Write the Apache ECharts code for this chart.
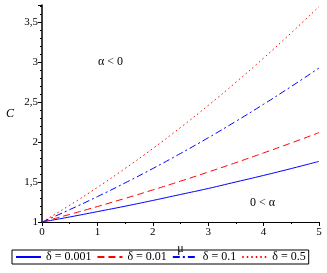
<!DOCTYPE html>
<html><head><meta charset="utf-8">
<script src="https://cdn.jsdelivr.net/npm/echarts@6/dist/echarts.min.js"></script>
<style>html,body{margin:0;padding:0;background:#fff}#c{width:327px;height:273px}</style>
</head><body><div id="c"></div>
<script>
const mu = [0, 0.5, 1, 1.5, 2, 2.5, 3, 3.5, 4, 4.5, 5];
const c0001 = [1, 1.063, 1.13, 1.198, 1.27, 1.345, 1.42, 1.502, 1.584, 1.670, 1.76];
const c001  = [1, 1.095, 1.194, 1.296, 1.402, 1.512, 1.626, 1.744, 1.866, 1.991, 2.12];
const c01   = [1, 1.155, 1.318, 1.490, 1.67, 1.859, 2.056, 2.262, 2.476, 2.699, 2.93];
const c05   = [1, 1.210, 1.434, 1.671, 1.921, 2.184, 2.461, 2.751, 3.055, 3.372, 3.70];
const names = ['δ = 0.001', 'δ = 0.01', 'δ = 0.1', 'δ = 0.5'];
const xTicks = [0, 1, 2, 3, 4, 5];
const yTicks = ['1', '1,5', '2', '2,5', '3', '3,5'];

const pairs = arr => mu.map((m, i) => [m, arr[i]]);
const font = 'Liberation Serif';
const chart = echarts.init(document.getElementById('c'), null, {renderer: 'canvas'});
function mk(name, data, color, type) {
  return {name, type: 'line', data: pairs(data), showSymbol: false, symbol: 'none', smooth: true,
    lineStyle: {color, width: 1, type}, itemStyle: {color}};
}
chart.setOption({
  animation: false,
  grid: {left: 42, right: 8, top: 5, bottom: 51},
  xAxis: {type: 'value', min: 0, max: 5, interval: 1,
    axisLine: {lineStyle: {color: '#000', width: 1}},
    axisTick: {show: true, length: 4, lineStyle: {color: '#000'}},
    minorTick: {show: true, splitNumber: 2, length: 2, lineStyle: {color: '#000'}},
    splitLine: {show: false},
    axisLabel: {color: '#000', fontFamily: font, fontSize: 11, margin: 5,
      formatter: v => xTicks.includes(v) ? String(v) : ''},
    name: 'μ', nameLocation: 'middle', nameGap: 11,
    nameTextStyle: {color: '#000', fontFamily: font, fontSize: 12}},
  yAxis: {type: 'value', min: 1, max: 3.72, interval: 0.5,
    axisLine: {show: true, lineStyle: {color: '#000', width: 1.5}},
    axisTick: {show: true, length: 4, lineStyle: {color: '#000'}},
    minorTick: {show: true, splitNumber: 5, length: 2, lineStyle: {color: '#000'}},
    splitLine: {show: false},
    axisLabel: {color: '#000', fontFamily: font, fontSize: 11, margin: 4, showMaxLabel: false,
      formatter: v => { const i = Math.round((v - 1) / 0.5); return (Math.abs(v - 1 - i * 0.5) < 1e-6 && yTicks[i]) ? yTicks[i] : ''; }},
    name: 'C', nameLocation: 'middle', nameGap: 28, nameRotate: 0,
    nameTextStyle: {color: '#000', fontFamily: font, fontSize: 12, fontStyle: 'italic'}},
  legend: {bottom: 9, left: 12, width: 320, itemWidth: 25, itemHeight: 10, itemGap: 5,
    borderColor: '#000', borderWidth: 1, padding: [1, 3, 1, 3],
    itemStyle: {opacity: 0},
    textStyle: {color: '#000', fontFamily: font, fontSize: 12},
    data: names},
  graphic: [
    {type: 'text', left: 98, top: 56, style: {text: 'α < 0', font: '12px "Liberation Serif"', fill: '#000'}},
    {type: 'text', left: 250, top: 197, style: {text: '0 < α', font: '12px "Liberation Serif"', fill: '#000'}}
  ],
  series: [
    mk(names[0], c0001, '#0000ff', 'solid'),
    mk(names[1], c001, '#ff0000', [7, 4]),
    mk(names[2], c01, '#0000ff', [7, 3, 2, 3]),
    mk(names[3], c05, '#ff0000', [1.5, 3])
  ]
});
</script></body></html>
